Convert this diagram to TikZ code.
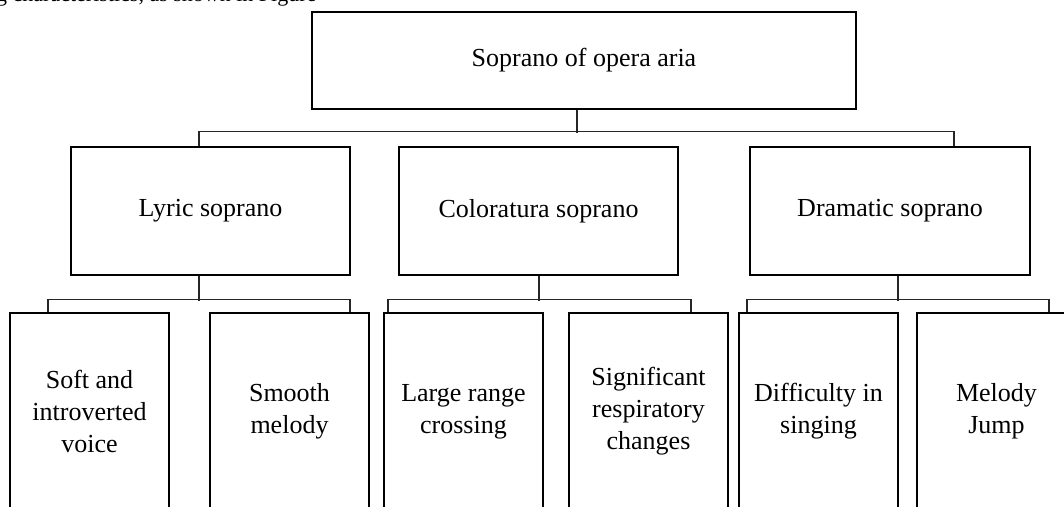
\documentclass[tikz,border=0pt]{standalone}
\usepackage{fontspec}
\setmainfont{Liberation Serif}
\begin{document}
\begin{tikzpicture}[x=1pt,y=-1pt,
  box/.style={draw=black,line width=1.1pt,inner sep=0pt,align=center,
    font=\fontsize{26}{32}\selectfont},
  conn/.style={draw=black!85,line width=1.1pt}]
\useasboundingbox (0,0) rectangle (1064,506);
\clip (0,0) rectangle (1064,506);
\fill[white] (0,0) rectangle (1064,506);
% clipped line of page text above the figure
\node[anchor=base west,inner sep=0pt,font=\fontsize{22}{26}\selectfont] (pagetext) at (-4,1.5) {g characteristics, as shown in Figure};
% boxes
\node[box,minimum width=544pt,minimum height=97pt] (top) at (584,60.5) {Soprano of opera aria};
\node[box,minimum width=279pt,minimum height=128pt] (lyric) at (210.5,211) {Lyric soprano};
\node[box,minimum width=279pt,minimum height=128pt] (color) at (538.5,211) {Coloratura soprano};
\node[box,minimum width=280pt,minimum height=128pt] (dram) at (890,211) {Dramatic soprano};
\node[box,minimum width=159pt,minimum height=197pt] (soft) at (89.5,411.5) {Soft and\\introverted\\voice};
\node[box,minimum width=159pt,minimum height=197pt] (smooth) at (289.5,411.5) {Smooth\\melody};
\node[box,minimum width=159pt,minimum height=197pt] (large) at (463.5,411.5) {Large range\\crossing};
\node[box,minimum width=159pt,minimum height=197pt] (sig) at (648.5,411.5) {Significant\\respiratory\\changes};
\node[box,minimum width=159pt,minimum height=197pt] (diff) at (818.5,411.5) {Difficulty in\\singing};
\node[box,minimum width=159pt,minimum height=197pt] (melody) at (996.5,411.5) {Melody\\Jump};
% connectors, level 1
\draw[conn] ([xshift=-7pt]top.south) -- ++(0,23);
\draw[conn] ([xshift=-11.5pt]lyric.north) -- ++(0,-15) -| ([xshift=64pt]dram.north);
% connectors, level 2
\draw[conn] ([xshift=-11.5pt]lyric.south) -- ++(0,25);
\draw[conn] ([xshift=-41.5pt]soft.north) -- ++(0,-13) -| ([xshift=60.5pt]smooth.north);
\draw[conn] ([xshift=0.5pt]color.south) -- ++(0,25);
\draw[conn] ([xshift=-75.5pt]large.north) -- ++(0,-13) -| ([xshift=42.5pt]sig.north);
\draw[conn] ([xshift=8pt]dram.south) -- ++(0,25);
\draw[conn] ([xshift=-71.5pt]diff.north) -- ++(0,-13) -| ([xshift=52.5pt]melody.north);
\end{tikzpicture}
\end{document}
